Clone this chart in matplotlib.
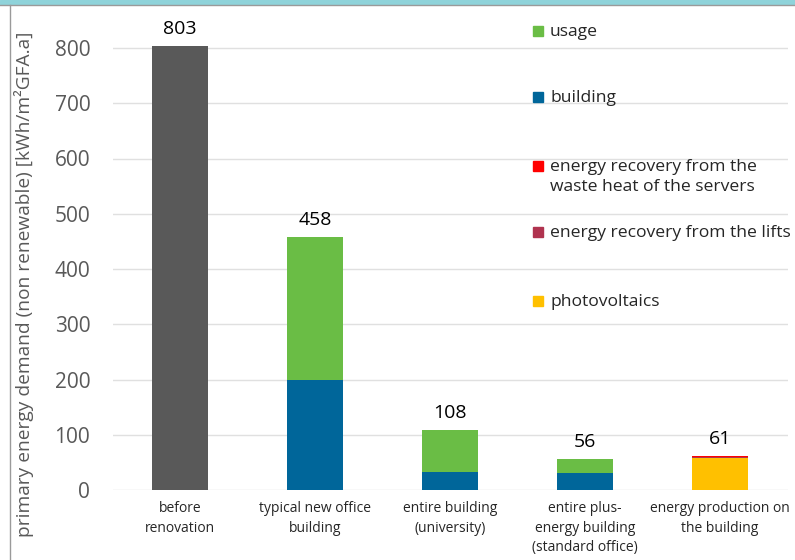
import matplotlib.pyplot as plt
from matplotlib.patches import Rectangle
import numpy as np

plt.rcParams['font.family'] = ['Open Sans', 'DejaVu Sans']

categories = ['before\nrenovation', 'typical new office\nbuilding', 'entire building\n(university)',
              'entire plus-\nenergy building\n(standard office)', 'energy production on\nthe building']
before = [803, 0, 0, 0, 0]
building = [0, 200, 33, 30, 0]
usage = [0, 258, 75, 26, 0]
photovoltaics = [0, 0, 0, 0, 58]
lifts = [0, 0, 0, 0, 2]
servers = [0, 0, 0, 0, 1]
totals = [803, 458, 108, 56, 61]
yticks = [0, 100, 200, 300, 400, 500, 600, 700, 800]

series = [('usage', '#6abd45'), ('building', '#00669a'),
          ('energy recovery from the\nwaste heat of the servers', '#ff0000'),
          ('energy recovery from the lifts', '#b0334f'), ('photovoltaics', '#ffc000')]

W, H = 795, 560
fig = plt.figure(figsize=(W / 100, H / 100), dpi=100)

# axes in pixel coords: value 0 at y=490, 800 at y=48
ymax = 850
px_per_unit = (490 - 48) / 800
ax_h = ymax * px_per_unit
ax = fig.add_axes([112.5 / W, 70 / H, 675 / W, ax_h / H])

x = np.arange(len(categories))
w = 0.415
ax.bar(x, before, w, color='#595959', zorder=3)
ax.bar(x, building, w, color='#00669a', zorder=3)
ax.bar(x, usage, w, bottom=building, color='#6abd45', zorder=3)
ax.bar(x, photovoltaics, w, color='#ffc000', zorder=3)
b2 = np.array(photovoltaics)
ax.bar(x, lifts, w, bottom=b2, color='#b0334f', zorder=3)
ax.bar(x, servers, w, bottom=b2 + np.array(lifts), color='#ff0000', zorder=3)

for xi, t in zip(x, totals):
    ax.text(xi, t + 15, str(t), ha='center', va='bottom', fontsize=14, color='black')

ax.set_xlim(-0.5, 4.5)
ax.set_ylim(0, ymax)
ax.set_yticks(yticks)
ax.set_yticklabels([str(v) for v in yticks], fontsize=15, color='#595959')
ax.tick_params(axis='y', length=0, pad=16)
ax.set_xticks(x)
ax.set_xticklabels(categories, fontsize=10, color='#262626', linespacing=1.4)
ax.tick_params(axis='x', length=0, pad=8)
for s in ax.spines.values():
    s.set_visible(False)
ax.grid(axis='y', color='#e0e0e0', linewidth=1, zorder=0)

fig.text(24 / W, 1 - 284 / H, 'primary energy demand (non renewable) [kWh/m²GFA.a]',
         rotation=90, ha='center', va='center', fontsize=13.8, color='#595959')

# legend placed like the original (spread down the right side)
leg_y = [31, 97, 166, 232, 301]
for (lab, col), yy in zip(series, leg_y):
    fig.patches.append(Rectangle((533 / W, 1 - (yy + 5) / H), 10 / W, 10 / H,
                                 transform=fig.transFigure, color=col))
    fig.text(550 / W, 1 - (yy - 7) / H, lab, ha='left', va='top', fontsize=12.6,
             color='#262626', linespacing=1.3)

# frame decorations of the screenshot
fig.patches.append(Rectangle((0, 1 - 4 / H), 1, 4 / H, transform=fig.transFigure,
                             color='#8fd3da'))
fig.add_artist(plt.Line2D([0, 1], [1 - 4.5 / H, 1 - 4.5 / H], transform=fig.transFigure,
                          color='#9a9a9a', linewidth=1))
fig.add_artist(plt.Line2D([9.5 / W, 9.5 / W], [0, 1 - 5 / H], transform=fig.transFigure,
                          color='#9a9a9a', linewidth=1))

fig.savefig('out.png', dpi=100)
